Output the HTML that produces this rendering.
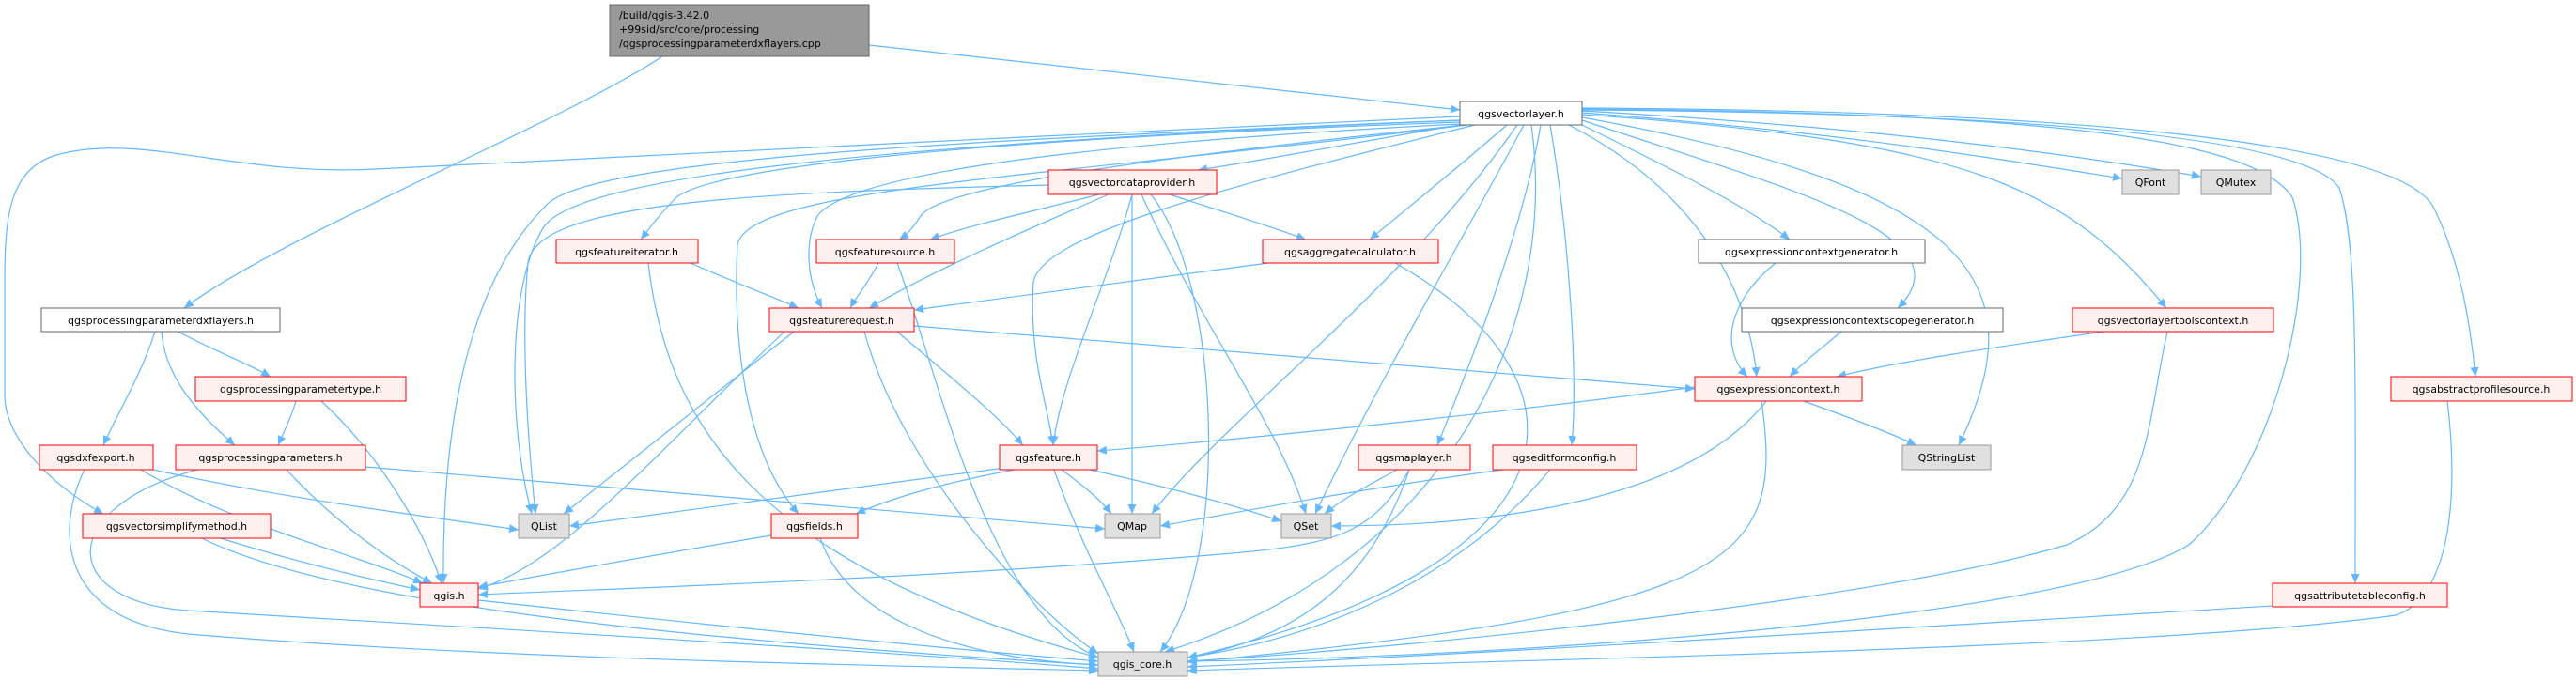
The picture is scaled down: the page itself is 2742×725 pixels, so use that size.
<!DOCTYPE html>
<html><head><meta charset="utf-8"><style>
html,body{margin:0;padding:0;background:#fff;}
svg{display:block;}
text{font-family:"DejaVu Sans","Liberation Sans",sans-serif;font-size:11px;fill:#000;}
</style></head><body>
<svg width="2742" height="725" viewBox="0 0 2742 725" xmlns="http://www.w3.org/2000/svg">
<defs><marker id="a" markerWidth="11" markerHeight="9" refX="10" refY="4.5" orient="auto" markerUnits="userSpaceOnUse"><path d="M0,0 L10,4.5 L0,9z" fill="#63b8ff"/></marker></defs>
<g fill="none" stroke="#63b8ff" stroke-width="1.2">
<path marker-end="url(#a)" d="M705,60 C600,130 300,250 196,328"/>
<path marker-end="url(#a)" d="M925,48 C1200,78 1400,100 1554,117"/>
<path marker-end="url(#a)" d="M190,353 C220,370 260,385 288,401"/>
<path marker-end="url(#a)" d="M172,353 C175,400 210,440 250,474"/>
<path marker-end="url(#a)" d="M165,353 C150,400 125,440 110,474"/>
<path marker-end="url(#a)" d="M315,427 C310,445 302,460 296,474"/>
<path marker-end="url(#a)" d="M342,427 C400,480 450,560 470,621"/>
<path marker-end="url(#a)" d="M305,500 C360,560 420,600 460,621"/>
<path marker-end="url(#a)" d="M210,500 C60,540 60,640 200,650 C450,665 900,690 1169,712"/>
<path marker-end="url(#a)" d="M389,497 C700,525 950,545 1176,563"/>
<path marker-end="url(#a)" d="M163,500 C300,530 420,545 552,564"/>
<path marker-end="url(#a)" d="M150,500 C250,560 380,590 450,621"/>
<path marker-end="url(#a)" d="M90,500 C60,560 60,660 200,675 C500,700 900,708 1169,714"/>
<path marker-end="url(#a)" d="M235,573 C320,600 400,618 447,628"/>
<path marker-end="url(#a)" d="M215,573 C350,640 700,680 1169,708"/>
<path marker-end="url(#a)" d="M509,639 C750,665 1000,690 1169,704"/>
<path marker-end="url(#a)" d="M1554,124 C1200,140 600,170 400,180 C250,188 150,140 60,165 C10,180 5,230 5,300 C5,380 5,420 5,420 C5,470 60,520 110,547"/>
<path marker-end="url(#a)" d="M1554,128 C900,155 620,190 580,240 C540,300 540,450 566,547"/>
<path marker-end="url(#a)" d="M1554,128 C1000,150 620,170 580,220 C510,290 470,420 472,621"/>
<path marker-end="url(#a)" d="M1554,130 C1000,150 760,180 720,210 C700,230 690,245 682,255"/>
<path marker-end="url(#a)" d="M1554,132 C1100,155 900,190 870,230 C855,260 860,300 875,328"/>
<path marker-end="url(#a)" d="M1560,133 C1200,170 1000,200 980,230 C970,245 965,250 957,255"/>
<path marker-end="url(#a)" d="M1562,133 C1100,190 800,200 785,260 C780,350 790,480 850,547"/>
<path marker-end="url(#a)" d="M1570,133 C1300,200 1110,250 1100,300 C1095,380 1115,430 1121,474"/>
<path marker-end="url(#a)" d="M1554,133 C1450,150 1350,170 1275,181"/>
<path marker-end="url(#a)" d="M1604,133 C1550,180 1500,220 1458,255"/>
<path marker-end="url(#a)" d="M1615,133 C1500,300 1300,450 1226,547"/>
<path marker-end="url(#a)" d="M1622,133 C1560,250 1470,400 1400,547"/>
<path marker-end="url(#a)" d="M1630,133 C1660,350 1540,600 1240,694"/>
<path marker-end="url(#a)" d="M1640,133 C1620,250 1560,400 1530,474"/>
<path marker-end="url(#a)" d="M1650,133 C1670,250 1680,400 1673,474"/>
<path marker-end="url(#a)" d="M1670,133 C1800,200 1860,300 1870,401"/>
<path marker-end="url(#a)" d="M1684,133 C1780,180 1860,220 1905,255"/>
<path marker-end="url(#a)" d="M1684,128 C1900,200 2100,250 2020,328"/>
<path marker-end="url(#a)" d="M1684,125 C2100,200 2170,300 2085,474"/>
<path marker-end="url(#a)" d="M1684,120 C1950,140 2100,165 2259,190"/>
<path marker-end="url(#a)" d="M1684,118 C1980,135 2180,160 2343,188"/>
<path marker-end="url(#a)" d="M1684,122 C2100,150 2200,200 2306,328"/>
<path marker-end="url(#a)" d="M1684,117 C2100,120 2450,140 2490,200 C2510,260 2507,400 2507,621"/>
<path marker-end="url(#a)" d="M1684,115 C2200,118 2550,150 2590,220 C2620,280 2630,350 2635,401"/>
<path marker-end="url(#a)" d="M1684,116 C2200,120 2400,150 2440,210 C2470,300 2420,500 2330,580 C2200,660 1600,700 1264,704"/>
<path marker-end="url(#a)" d="M1116,197 C800,205 570,215 562,280 C555,350 560,450 570,547"/>
<path marker-end="url(#a)" d="M1170,207 C1100,225 1030,240 990,255"/>
<path marker-end="url(#a)" d="M1180,207 C1080,250 990,290 925,328"/>
<path marker-end="url(#a)" d="M1245,207 C1300,225 1350,240 1390,255"/>
<path marker-end="url(#a)" d="M1205,207 C1180,300 1130,400 1121,474"/>
<path marker-end="url(#a)" d="M1205,207 C1205,350 1205,450 1205,547"/>
<path marker-end="url(#a)" d="M1215,207 C1280,350 1360,450 1390,547"/>
<path marker-end="url(#a)" d="M1225,207 C1300,300 1310,600 1235,694"/>
<path marker-end="url(#a)" d="M735,280 C780,300 820,315 850,328"/>
<path marker-end="url(#a)" d="M690,280 C710,450 800,600 1169,700"/>
<path marker-end="url(#a)" d="M935,280 C925,300 912,315 905,328"/>
<path marker-end="url(#a)" d="M955,280 C1000,400 1050,650 1169,700"/>
<path marker-end="url(#a)" d="M1350,280 C1200,300 1050,320 973,330"/>
<path marker-end="url(#a)" d="M1485,280 C1700,400 1700,600 1264,700"/>
<path marker-end="url(#a)" d="M973,347 C1300,372 1600,398 1804,414"/>
<path marker-end="url(#a)" d="M955,353 C1010,400 1060,440 1089,474"/>
<path marker-end="url(#a)" d="M845,353 C760,420 660,500 600,547"/>
<path marker-end="url(#a)" d="M835,353 C700,480 600,600 509,627"/>
<path marker-end="url(#a)" d="M920,353 C960,500 1100,650 1169,696"/>
<path marker-end="url(#a)" d="M1890,280 C1840,320 1830,370 1860,401"/>
<path marker-end="url(#a)" d="M1960,353 C1940,370 1920,385 1905,401"/>
<path marker-end="url(#a)" d="M2240,353 C2120,370 2020,385 1955,401"/>
<path marker-end="url(#a)" d="M2307,353 C2285,450 2290,540 2200,580 C2000,640 1500,690 1264,704"/>
<path marker-end="url(#a)" d="M1804,412 C1600,440 1300,470 1168,480"/>
<path marker-end="url(#a)" d="M1880,427 C1800,530 1600,560 1417,560"/>
<path marker-end="url(#a)" d="M1920,427 C1970,445 2010,460 2040,474"/>
<path marker-end="url(#a)" d="M1875,427 C1900,600 1850,650 1264,705"/>
<path marker-end="url(#a)" d="M1070,498 C900,520 720,545 606,560"/>
<path marker-end="url(#a)" d="M1080,500 C1000,515 950,530 911,547"/>
<path marker-end="url(#a)" d="M1130,500 C1150,515 1170,530 1183,547"/>
<path marker-end="url(#a)" d="M1160,500 C1250,520 1320,540 1364,555"/>
<path marker-end="url(#a)" d="M1122,500 C1150,580 1190,650 1207,694"/>
<path marker-end="url(#a)" d="M821,570 C700,590 580,612 509,625"/>
<path marker-end="url(#a)" d="M873,573 C900,650 1000,700 1169,708"/>
<path marker-end="url(#a)" d="M1487,500 C1460,515 1430,530 1410,547"/>
<path marker-end="url(#a)" d="M1500,500 C1460,570 1420,580 1300,590 C1000,615 700,625 509,633"/>
<path marker-end="url(#a)" d="M1500,500 C1460,620 1380,680 1264,700"/>
<path marker-end="url(#a)" d="M1600,500 C1450,520 1320,545 1235,560"/>
<path marker-end="url(#a)" d="M1650,500 C1550,620 1400,680 1264,700"/>
<path marker-end="url(#a)" d="M2419,645 C2000,670 1600,695 1264,710"/>
<path marker-end="url(#a)" d="M2605,427 C2620,550 2600,640 2550,655 C2300,690 1700,700 1264,714"/>
</g>
<g>
<rect x="649" y="5" width="276" height="55" fill="#999999" stroke="#666"/>
<text x="659" y="20">/build/qgis-3.42.0</text>
<text x="659" y="35">+99sid/src/core/processing</text>
<text x="659" y="50">/qgsprocessingparameterdxflayers.cpp</text>
<rect x="1554" y="108" width="130" height="25" fill="#fff" stroke="#666"/><text x="1619" y="125" text-anchor="middle">qgsvectorlayer.h</text>
<rect x="44" y="328" width="254" height="25" fill="#fff" stroke="#666"/><text x="171" y="345" text-anchor="middle">qgsprocessingparameterdxflayers.h</text>
<rect x="592" y="255" width="151" height="25" fill="#fff0f0" stroke="#f00"/><text x="667" y="272" text-anchor="middle">qgsfeatureiterator.h</text>
<rect x="869" y="255" width="147" height="25" fill="#fff0f0" stroke="#f00"/><text x="942" y="272" text-anchor="middle">qgsfeaturesource.h</text>
<rect x="1116" y="181" width="179" height="26" fill="#fff0f0" stroke="#f00"/><text x="1205" y="198" text-anchor="middle">qgsvectordataprovider.h</text>
<rect x="1344" y="255" width="187" height="25" fill="#fff0f0" stroke="#f00"/><text x="1437" y="272" text-anchor="middle">qgsaggregatecalculator.h</text>
<rect x="819" y="328" width="154" height="25" fill="#fff0f0" stroke="#f00"/><text x="896" y="345" text-anchor="middle">qgsfeaturerequest.h</text>
<rect x="208" y="401" width="224" height="26" fill="#fff0f0" stroke="#f00"/><text x="320" y="418" text-anchor="middle">qgsprocessingparametertype.h</text>
<rect x="42" y="474" width="121" height="26" fill="#fff0f0" stroke="#f00"/><text x="102" y="491" text-anchor="middle">qgsdxfexport.h</text>
<rect x="187" y="474" width="202" height="26" fill="#fff0f0" stroke="#f00"/><text x="288" y="491" text-anchor="middle">qgsprocessingparameters.h</text>
<rect x="88" y="547" width="200" height="26" fill="#fff0f0" stroke="#f00"/><text x="188" y="564" text-anchor="middle">qgsvectorsimplifymethod.h</text>
<rect x="552" y="547" width="54" height="26" fill="#e0e0e0" stroke="#999"/><text x="579" y="564" text-anchor="middle">QList</text>
<rect x="447" y="621" width="62" height="25" fill="#fff0f0" stroke="#f00"/><text x="478" y="638" text-anchor="middle">qgis.h</text>
<rect x="821" y="547" width="92" height="26" fill="#fff0f0" stroke="#f00"/><text x="867" y="564" text-anchor="middle">qgsfields.h</text>
<rect x="1064" y="474" width="104" height="26" fill="#fff0f0" stroke="#f00"/><text x="1116" y="491" text-anchor="middle">qgsfeature.h</text>
<rect x="1176" y="547" width="59" height="26" fill="#e0e0e0" stroke="#999"/><text x="1205" y="564" text-anchor="middle">QMap</text>
<rect x="1364" y="547" width="53" height="26" fill="#e0e0e0" stroke="#999"/><text x="1390" y="564" text-anchor="middle">QSet</text>
<rect x="1169" y="694" width="95" height="26" fill="#e0e0e0" stroke="#999"/><text x="1216" y="711" text-anchor="middle">qgis_core.h</text>
<rect x="1446" y="474" width="119" height="26" fill="#fff0f0" stroke="#f00"/><text x="1505" y="491" text-anchor="middle">qgsmaplayer.h</text>
<rect x="1589" y="474" width="153" height="26" fill="#fff0f0" stroke="#f00"/><text x="1665" y="491" text-anchor="middle">qgseditformconfig.h</text>
<rect x="2259" y="181" width="60" height="26" fill="#e0e0e0" stroke="#999"/><text x="2289" y="198" text-anchor="middle">QFont</text>
<rect x="2343" y="181" width="74" height="26" fill="#e0e0e0" stroke="#999"/><text x="2380" y="198" text-anchor="middle">QMutex</text>
<rect x="1808" y="255" width="241" height="25" fill="#fff" stroke="#666"/><text x="1928" y="272" text-anchor="middle">qgsexpressioncontextgenerator.h</text>
<rect x="1854" y="328" width="278" height="25" fill="#fff" stroke="#666"/><text x="1993" y="345" text-anchor="middle">qgsexpressioncontextscopegenerator.h</text>
<rect x="2206" y="328" width="214" height="25" fill="#fff0f0" stroke="#f00"/><text x="2313" y="345" text-anchor="middle">qgsvectorlayertoolscontext.h</text>
<rect x="1804" y="401" width="178" height="26" fill="#fff0f0" stroke="#f00"/><text x="1893" y="418" text-anchor="middle">qgsexpressioncontext.h</text>
<rect x="2025" y="474" width="94" height="26" fill="#e0e0e0" stroke="#999"/><text x="2072" y="491" text-anchor="middle">QStringList</text>
<rect x="2545" y="401" width="193" height="26" fill="#fff0f0" stroke="#f00"/><text x="2641" y="418" text-anchor="middle">qgsabstractprofilesource.h</text>
<rect x="2419" y="621" width="186" height="25" fill="#fff0f0" stroke="#f00"/><text x="2512" y="638" text-anchor="middle">qgsattributetableconfig.h</text>
</g>
</svg>
</body></html>
